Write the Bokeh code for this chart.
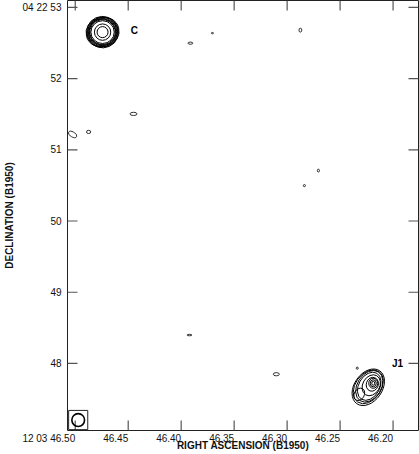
from bokeh.plotting import figure
from bokeh.models import Range1d, FixedTicker, ColumnDataSource
from bokeh.embed import file_html
from bokeh.resources import INLINE
from bokeh.core.properties import value

# ---- axes (RA seconds of 12h03m, Dec arcsec of +04d22m) ----
ra_ticks = [46.50, 46.45, 46.40, 46.35, 46.30, 46.25, 46.20]
ra_labels = ["12 03 46.50", "46.45", "46.40", "46.35", "46.30", "46.25", "46.20"]
dec_ticks = [48, 49, 50, 51, 52, 53]
dec_labels = ["48", "49", "50", "51", "52", "04 22 53"]
ra_limits = [46.5073, 46.176]
dec_limits = [47.059, 53.096]
ARCSEC_PER_SEC = 14.956   # 15 * cos(dec)

# ---- component C : contour rings (arcsec sizes, PA deg) ----
c_ra = 46.4742
c_dec = 52.652
c_w = [0.47, 0.45, 0.44, 0.42, 0.40, 0.38, 0.36, 0.33, 0.23, 0.155]
c_h = [0.42, 0.44, 0.40, 0.41, 0.38, 0.37, 0.35, 0.32, 0.23, 0.155]
c_pa = [15, -20, 40, -5, 25, -30, 10, 0, 0, 0]

# ---- component J1 : contour rings ----
j1_ra = [46.2234, 46.2234, 46.2225, 46.2225, 46.2206, 46.2196, 46.2187, 46.2187, 46.2187, 46.2319]
j1_dec = [47.666, 47.673, 47.680, 47.680, 47.694, 47.708, 47.722, 47.722, 47.722, 47.567]
j1_w = [0.394, 0.366, 0.338, 0.296, 0.239, 0.169, 0.127, 0.085, 0.042, 0.141]
j1_h = [0.563, 0.521, 0.479, 0.423, 0.310, 0.197, 0.141, 0.099, 0.056, 0.183]
j1_pa = [-35, -35, -32, -30, -30, -20, 0, 0, 0, -30]

# ---- weak noise contours ----
knot_ra = [46.5025, 46.4874, 46.4450, 46.3913, 46.3705, 46.2875, 46.2705, 46.2837, 46.3922, 46.3102, 46.2338]
knot_dec = [51.2155, 51.2507, 51.504, 52.497, 52.638, 52.680, 50.708, 50.497, 48.399, 47.849, 47.934]
knot_w = [0.13, 0.06, 0.10, 0.07, 0.03, 0.04, 0.03, 0.03, 0.07, 0.085, 0.03]
knot_h = [0.07, 0.045, 0.045, 0.03, 0.02, 0.055, 0.04, 0.03, 0.02, 0.045, 0.03]
knot_pa = [-30, 0, 0, 0, 0, 0, 0, 0, 0, 0, 0]

# ---- beam ----
beam_ra = 46.4972
beam_dec = 47.206
beam_fwhm = 0.18
beam_box = 0.27

# ---- component labels ----
lab_ra = [46.4443, 46.1958]
lab_dec = [52.68, 48.0]
lab_text = ["C", "J1"]

FONT = "Liberation Sans"
W, H = 419, 454
BL, BR, BT, BB = 67, 1, 0, 24
frame_w = W - BL - BR
frame_h = H - BT - BB
px_per_s = frame_w / (ra_limits[0] - ra_limits[1])
px_per_as = frame_h / (dec_limits[1] - dec_limits[0])
TICK_PX = 10

p = figure(width=W, height=H,
           x_range=Range1d(ra_limits[0], ra_limits[1]),
           y_range=Range1d(dec_limits[0], dec_limits[1]),
           output_backend="svg", toolbar_location=None,
           min_border_left=BL, min_border_right=BR, min_border_top=BT, min_border_bottom=BB)
p.grid.visible = False
p.outline_line_color = "#222222"
p.outline_line_width = 1
p.background_fill_color = "white"

xa = p.xaxis[0]
ya = p.yaxis[0]
xa.ticker = FixedTicker(ticks=ra_ticks)
xa.major_label_overrides = {t: l for t, l in zip(ra_ticks, ra_labels)}
ya.ticker = FixedTicker(ticks=dec_ticks)
ya.major_label_overrides = {t: l for t, l in zip(dec_ticks, dec_labels)}
for ax in (xa, ya):
    ax.major_tick_line_color = None
    ax.minor_tick_line_color = None
    ax.major_tick_out = 0
    ax.major_tick_in = 0
    ax.minor_tick_out = 0
    ax.minor_tick_in = 0
    ax.axis_line_color = None
    ax.major_label_text_font = FONT
    ax.major_label_text_font_size = "10px"
    ax.major_label_text_color = "#111111"
    ax.axis_label_text_font = FONT
    ax.axis_label_text_font_size = "10px"
    ax.axis_label_text_font_style = "bold"
    ax.axis_label_text_color = "#111111"
# a (practically zero) numeric orientation makes the RA labels end on their tick
xa.major_label_orientation = 0.0001
xa.major_label_standoff = 8
ya.major_label_standoff = 6
xa.axis_label = "RIGHT ASCENSION (B1950)"
ya.axis_label = "DECLINATION (B1950)"
xa.axis_label_standoff = -13
ya.axis_label_standoff = 5

# inward ticks on all four sides
tick_dec = TICK_PX / px_per_as
tick_ra = TICK_PX / px_per_s
tick_style = dict(line_color="#555555", line_width=1.2)
p.segment(x0=ra_ticks, y0=[dec_limits[0]] * len(ra_ticks),
          x1=ra_ticks, y1=[dec_limits[0] + tick_dec] * len(ra_ticks), **tick_style)
p.segment(x0=ra_ticks, y0=[dec_limits[1]] * len(ra_ticks),
          x1=ra_ticks, y1=[dec_limits[1] - tick_dec] * len(ra_ticks), **tick_style)
p.segment(x0=[ra_limits[0]] * len(dec_ticks), y0=dec_ticks,
          x1=[ra_limits[0] - tick_ra] * len(dec_ticks), y1=dec_ticks, **tick_style)
p.segment(x0=[ra_limits[1]] * len(dec_ticks), y0=dec_ticks,
          x1=[ra_limits[1] + tick_ra] * len(dec_ticks), y1=dec_ticks, **tick_style)


# contours
def draw(ras, decs, ws, hs, pas, lw=1.0):
    src = ColumnDataSource(dict(
        x=ras, y=decs,
        w=[w / ARCSEC_PER_SEC for w in ws], h=hs, a=pas))
    p.ellipse(x="x", y="y", width="w", height="h", angle="a", angle_units="deg",
              source=src, fill_color=None, line_color="black", line_width=lw)


draw([c_ra] * len(c_w), [c_dec] * len(c_w), c_w, c_h, c_pa)
draw(j1_ra, j1_dec, j1_w, j1_h, j1_pa)
draw(knot_ra, knot_dec, knot_w, knot_h, knot_pa, lw=0.8)

# beam
p.rect(x=[beam_ra], y=[beam_dec], width=[beam_box / ARCSEC_PER_SEC], height=[beam_box],
       fill_color=None, line_color="#222222", line_width=1)
p.ellipse(x=[beam_ra], y=[beam_dec], width=[beam_fwhm / ARCSEC_PER_SEC], height=[beam_fwhm],
          fill_color=None, line_color="black", line_width=1.6)

p.text(x=lab_ra, y=lab_dec, text=lab_text, text_font=value(FONT), text_font_size="10px",
       text_font_style="bold", text_align="center", text_baseline="middle", text_color="black")

open("out.html", "w").write(file_html(p, INLINE))
